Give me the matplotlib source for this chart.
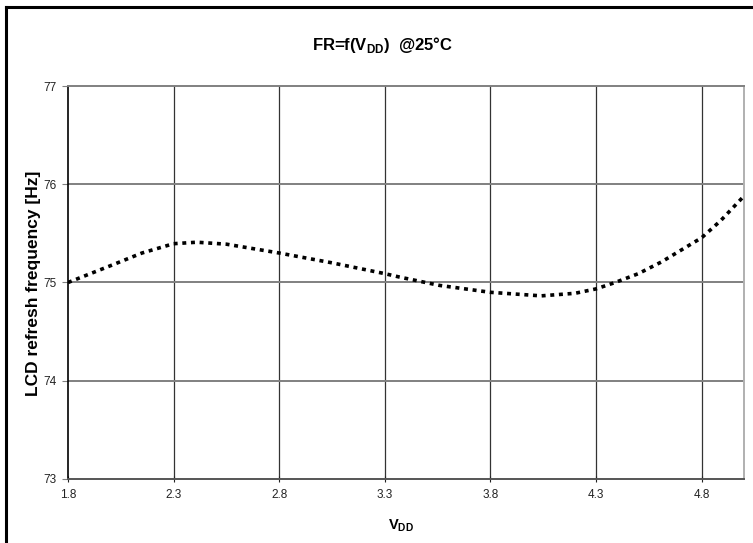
import matplotlib
matplotlib.use("Agg")
import matplotlib.pyplot as plt
from matplotlib.lines import Line2D

plt.rcParams['font.family'] = ['Liberation Sans', 'DejaVu Sans']
plt.rcParams['mathtext.fontset'] = 'custom'
plt.rcParams['mathtext.rm'] = 'Liberation Sans'
plt.rcParams['mathtext.bf'] = 'Liberation Sans:bold'

vdd = [1.8, 2.0, 2.15, 2.3, 2.41, 2.55, 2.8, 3.05, 3.3, 3.37, 3.56, 3.8,
       4.04, 4.2, 4.3, 4.39, 4.5, 4.61, 4.8, 4.89, 5.0]
freq = [75.0, 75.17, 75.30, 75.395, 75.41, 75.39, 75.30, 75.20, 75.09, 75.055,
        74.97, 74.90, 74.864, 74.89, 74.935, 75.0, 75.09, 75.21, 75.456, 75.63, 75.88]

xticks = [1.8, 2.3, 2.8, 3.3, 3.8, 4.3, 4.8]
yticks = [73, 74, 75, 76, 77]

fig = plt.figure(figsize=(7.53, 5.43), dpi=100)
ax = fig.add_axes([0.0903, 0.1179, 0.8977, 0.7237])

ax.plot(vdd, freq, color='black', lw=2.6, linestyle=(0, (1.1, 1.3)), zorder=3)

ax.set_xlim(1.8, 5.0)
ax.set_ylim(73, 77)
ax.set_xticks(xticks)
ax.set_yticks(yticks)
ax.set_xticklabels([f"{t:.1f}" for t in xticks])
ax.tick_params(axis='both', labelsize=8.5, colors='#222222', length=4)
ax.tick_params(axis='x', direction='inout', pad=5)
ax.tick_params(axis='y', direction='out', pad=4, color='#808080')
for lbl in ax.get_xticklabels() + ax.get_yticklabels():
    lbl.set_family(['Liberation Sans Narrow', 'Liberation Sans'])

for t in xticks[1:]:
    ax.axvline(t, color='#333333', lw=0.9, zorder=1)
for t in yticks[1:-1]:
    ax.axhline(t, color='#808080', lw=1.4, zorder=1)

ax.spines['left'].set_color('black')
ax.spines['left'].set_linewidth(1.2)
ax.spines['bottom'].set_color('#555555')
ax.spines['bottom'].set_linewidth(1.4)
ax.spines['top'].set_color('#808080')
ax.spines['top'].set_linewidth(1.4)
ax.spines['right'].set_color('#b0b0b0')
ax.spines['right'].set_linewidth(1.4)

fig.text(0.044, 0.478, 'LCD refresh frequency [Hz]', rotation=90, ha='center', va='center',
         fontsize=12.5, fontweight='bold')
fig.text(0.532, 0.032, r'V$_{\mathbf{DD}}$', ha='center', va='center',
         fontsize=10.5, fontweight='bold')

fig.text(0.508, 0.918, r'FR=f(V$_{\mathbf{DD}}$)  @25°C', ha='center', va='center',
         fontsize=12, fontweight='bold')

# outer frame (left and top edges visible)
fig.add_artist(Line2D([0.008, 0.008], [0.0, 0.987], transform=fig.transFigure,
                      color='black', lw=2.2))
fig.add_artist(Line2D([0.008, 1.0], [0.987, 0.987], transform=fig.transFigure,
                      color='black', lw=2.2))

fig.savefig('out.png', dpi=100)
